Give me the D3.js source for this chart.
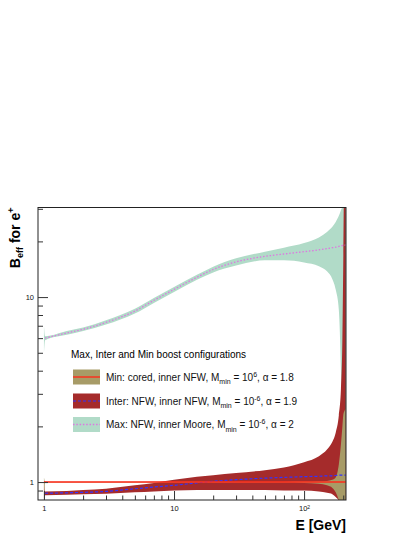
<!DOCTYPE html>
<html>
<head>
<meta charset="utf-8">
<script src="https://cdn.jsdelivr.net/npm/d3@7"></script>
<style>
  body { margin: 0; background: #fff; }
  text { font-family: "Liberation Sans", Arial, Helvetica, sans-serif; }
</style>
</head>
<body>
<div id="viz"></div>
<script>
// energies (GeV) where the bands are sampled
const energy = [1, 1.02, 1.5, 2, 3, 5, 7, 10, 15, 20, 30, 50, 70, 100, 130, 150, 165, 175, 185, 192, 197, 200, 203, 206, 209];

// Max: NFW, inner Moore
const maxMid  = [6.0, 6.0, 6.4, 6.7, 7.3, 8.4, 9.6, 11.0, 12.8, 14.1, 15.5, 16.6, 17.1, 17.6, 18.0, 18.3, 18.5, 18.6, 18.8, 18.9, 19.0, 19.0, 19.1, 19.1, 19.2];
const maxHigh = [7.0, 6.15, 6.55, 6.85, 7.5, 8.65, 9.9, 11.35, 13.2, 14.6, 16.2, 17.6, 18.5, 19.6, 21.0, 22.5, 24.0, 25.5, 27.5, 29.5, 31, 33, 35, 37, 40];
const maxLow  = [5.0, 5.85, 6.25, 6.55, 7.1, 8.15, 9.3, 10.65, 12.4, 13.6, 14.8, 15.8, 15.8, 15.4, 14.7, 13.8, 12.5, 11.0, 8.5, 4.0, 1.5, 0.7, 0.5, 0.5, 0.5];

// Inter: NFW, inner NFW
const interMid  = [0.87, 0.87, 0.875, 0.88, 0.89, 0.92, 0.94, 0.96, 0.99, 1.01, 1.03, 1.05, 1.06, 1.07, 1.075, 1.08, 1.08, 1.085, 1.09, 1.09, 1.09, 1.09, 1.09, 1.09, 1.09];
const interHigh = [0.99, 0.89, 0.895, 0.905, 0.92, 0.96, 0.99, 1.03, 1.07, 1.09, 1.12, 1.16, 1.2, 1.28, 1.38, 1.5, 1.65, 1.85, 2.3, 3.2, 6, 15, 40, 40, 40];
const interLow  = [0.8, 0.85, 0.855, 0.86, 0.865, 0.88, 0.89, 0.9, 0.905, 0.905, 0.905, 0.905, 0.9, 0.9, 0.89, 0.875, 0.86, 0.83, 0.79, 0.7, 0.6, 0.5, 0.5, 0.5, 0.5];

// Min: cored, inner NFW
const minMid  = [1, 1, 1, 1, 1, 1, 1, 1, 1, 1, 1, 1, 1, 1, 1, 1, 1, 1, 1, 1, 1, 1, 1, 1, 1];
const minHigh = [1.06, 1.004, 1.004, 1.004, 1.004, 1.004, 1.004, 1.004, 1.004, 1.004, 1.004, 1.005, 1.005, 1.006, 1.01, 1.015, 1.03, 1.06, 1.25, 1.6, 2.0, 2.3, 2.4, 2.45, 2.5];
const minLow  = [0.8, 0.996, 0.996, 0.996, 0.996, 0.996, 0.996, 0.996, 0.996, 0.996, 0.996, 0.995, 0.995, 0.99, 0.98, 0.96, 0.93, 0.88, 0.8, 0.75, 0.7, 0.7, 0.7, 0.7, 0.7];

// axis ticks
const xMajor = [1, 10, 100];
const xMinor = [2, 3, 4, 5, 6, 7, 8, 9, 20, 30, 40, 50, 60, 70, 80, 90, 200];
const yMajor = [1, 10];
const yMinor = [0.9, 2, 3, 4, 5, 6, 7, 8, 9, 20, 30];

const W = 415, H = 537;
const frame = {left: 38, right: 346, top: 207.5, bottom: 500};

const svg = d3.select("#viz").append("svg")
  .attr("width", W)
  .attr("height", H);

const x = d3.scaleLog().domain([0.9, 210]).range([frame.left, frame.right]);
const y = d3.scaleLog().domain([0.8, 30.5]).range([frame.bottom, frame.top]);

svg.append("clipPath").attr("id", "clip")
  .append("rect")
  .attr("x", frame.left).attr("y", frame.top)
  .attr("width", frame.right - frame.left)
  .attr("height", frame.bottom - frame.top);

const plot = svg.append("g").attr("clip-path", "url(#clip)");

function rows(mid, lo, hi) {
  return energy.map((e, i) => ({e: e, mid: mid[i], lo: lo[i], hi: hi[i]}));
}

const area = d3.area()
  .curve(d3.curveMonotoneX)
  .x(d => x(d.e))
  .y0(d => y(d.lo))
  .y1(d => y(d.hi));
const line = d3.line()
  .curve(d3.curveMonotoneX)
  .x(d => x(d.e))
  .y(d => y(d.mid));

const configs = [
  {name: "max", data: rows(maxMid, maxLow, maxHigh), fill: "#b1dbc8", stroke: "#dd77e0", dash: "1.5,1.8", width: 1.3},
  {name: "inter", data: rows(interMid, interLow, interHigh), fill: "#a52b2b", stroke: "#3333ff", dash: "3,2", width: 1.2},
  {name: "min", data: rows(minMid, minLow, minHigh), fill: "#a79b67", stroke: "#ff2a1a", dash: null, width: 1.4}
];

// bands, Max drawn first, Min on top
configs.forEach(c => {
  plot.append("path")
    .datum(c.data)
    .attr("d", area)
    .attr("fill", c.fill)
    .attr("stroke", "none");
});

configs.forEach(c => {
  const data = c.name == "min" ? c.data : c.data.slice(1);
  plot.append("path")
    .datum(data)
    .attr("d", line)
    .attr("fill", "none")
    .attr("stroke", c.stroke)
    .attr("stroke-width", c.width)
    .attr("stroke-dasharray", c.dash);
});

// frame
svg.append("rect")
  .attr("x", frame.left).attr("y", frame.top)
  .attr("width", frame.right - frame.left)
  .attr("height", frame.bottom - frame.top)
  .attr("fill", "none")
  .attr("stroke", "#222")
  .attr("stroke-width", 1);

// x axis
const xAxisMajor = svg.append("g")
  .attr("transform", `translate(0,${frame.bottom})`)
  .call(d3.axisBottom(x).tickValues(xMajor).tickSize(-9).tickPadding(6).tickFormat(d => d == 100 ? "10" : String(d)));
svg.append("g")
  .attr("transform", `translate(0,${frame.bottom})`)
  .call(d3.axisBottom(x).tickValues(xMinor).tickSize(-4.5).tickFormat(""));

// y axis
svg.append("g")
  .attr("transform", `translate(${frame.left},0)`)
  .call(d3.axisLeft(y).tickValues(yMajor).tickSize(-10).tickPadding(4).tickFormat(d => String(d)));
svg.append("g")
  .attr("transform", `translate(${frame.left},0)`)
  .call(d3.axisLeft(y).tickValues(yMinor).tickSize(-5).tickFormat(""));

svg.selectAll(".domain").remove();
svg.selectAll(".tick line").attr("stroke", "#333");
svg.selectAll(".tick text")
  .style("font-size", "7.5px")
  .attr("fill", "#111");

// superscript on the 10^2 label
xAxisMajor.selectAll(".tick text")
  .filter(d => d == 100)
  .append("tspan")
  .attr("dy", "-0.45em")
  .style("font-size", "5px")
  .text("2");

// axis titles
svg.append("text")
  .attr("x", frame.right)
  .attr("y", 530)
  .attr("text-anchor", "end")
  .style("font-size", "14px")
  .style("font-weight", "bold")
  .text("E [GeV]");

const yt = svg.append("text")
  .attr("transform", `translate(20,${frame.top}) rotate(-90)`)
  .attr("text-anchor", "end")
  .style("font-size", "14px")
  .style("font-weight", "bold");
yt.append("tspan").text("B");
yt.append("tspan").attr("dy", 3).style("font-size", "9px").text("eff");
yt.append("tspan").attr("dy", -3).text(" for e");
yt.append("tspan").attr("dy", -6).style("font-size", "9px").text("+");

// legend
const legend = svg.append("g");
legend.append("text")
  .attr("x", 71)
  .attr("y", 358)
  .style("font-size", "10px")
  .text("Max, Inter and Min boost configurations");

const legendRows = [
  {c: configs[2], cy: 377, pre: "Min: cored, inner NFW, M", exp: "6", post: ", \u03b1 = 1.8"},
  {c: configs[1], cy: 401, pre: "Inter: NFW, inner NFW, M", exp: "-6", post: ", \u03b1 = 1.9"},
  {c: configs[0], cy: 424.5, pre: "Max: NFW, inner Moore, M", exp: "-6", post: ", \u03b1 = 2"}
];

legendRows.forEach(r => {
  legend.append("rect")
    .attr("x", 73).attr("y", r.cy - 7.5)
    .attr("width", 27).attr("height", 15)
    .attr("fill", r.c.fill);
  legend.append("line")
    .attr("x1", 73).attr("x2", 100)
    .attr("y1", r.cy).attr("y2", r.cy)
    .attr("stroke", r.c.stroke)
    .attr("stroke-width", r.c.width)
    .attr("stroke-dasharray", r.c.dash);
  const t = legend.append("text")
    .attr("x", 106)
    .attr("y", r.cy + 3.5)
    .attr("fill", "#111")
    .style("font-size", "10px");
  t.append("tspan").text(r.pre);
  t.append("tspan").attr("dy", 3.5).style("font-size", "7px").text("min");
  t.append("tspan").attr("dy", -3.5).text(" = 10");
  t.append("tspan").attr("dy", -4).style("font-size", "7px").text(r.exp);
  t.append("tspan").attr("dy", 4).text(r.post);
});
</script>
</body>
</html>
